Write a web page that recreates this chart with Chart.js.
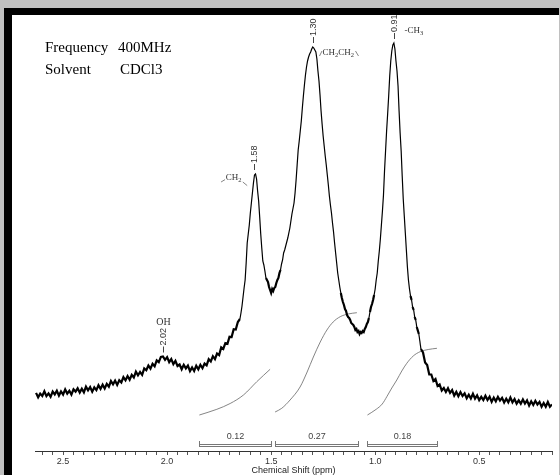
<!DOCTYPE html>
<html><head><meta charset="utf-8">
<script src="https://cdn.jsdelivr.net/npm/chart.js@4.4.0/dist/chart.umd.min.js"></script>
<style>
html,body{margin:0;padding:0;background:#c0c0c0;width:560px;height:475px;overflow:hidden}
#frame{position:absolute;left:4px;top:8px;width:555px;height:467px;background:#fff;border-left:8px solid #000;border-top:7px solid #000;box-sizing:border-box}
#wrap{position:absolute;left:0;top:0;width:547px;height:460px}
</style></head><body>
<div id="frame"><div id="wrap"><canvas id="c" width="547" height="460"></canvas></div></div>
<script>
// ---- data ----
const shiftPpm = [
2.63,2.62,2.61,2.60,2.59,2.58,2.57,2.56,2.55,2.54,
2.53,2.52,2.51,2.50,2.49,2.48,2.47,2.46,2.45,2.44,
2.43,2.42,2.41,2.40,2.39,2.38,2.37,2.36,2.35,2.34,
2.33,2.32,2.31,2.30,2.29,2.28,2.27,2.26,2.25,2.24,
2.23,2.22,2.21,2.20,2.19,2.18,2.17,2.16,2.15,2.14,
2.13,2.12,2.11,2.10,2.09,2.08,2.07,2.06,2.05,2.04,
2.03,2.02,2.01,2.00,1.99,1.98,1.97,1.96,1.95,1.94,
1.93,1.92,1.91,1.90,1.89,1.88,1.87,1.86,1.85,1.84,
1.83,1.82,1.81,1.80,1.79,1.78,1.77,1.76,1.75,1.74,
1.73,1.72,1.71,1.70,1.69,1.68,1.67,1.66,
1.65,1.645,1.64,1.635,1.63,1.625,1.62,1.615,1.61,1.605,
1.60,1.595,1.59,1.585,1.58,1.575,1.57,1.565,1.56,1.555,
1.55,1.545,1.54,1.535,1.53,1.525,1.52,1.515,1.51,1.505,
1.50,1.495,1.49,1.485,1.48,1.475,1.47,1.465,1.46,1.455,
1.45,1.445,1.44,1.435,1.43,1.42,1.41,1.40,1.39,1.385,
1.38,1.375,1.37,1.365,1.36,1.355,1.35,1.345,1.34,1.335,
1.33,1.325,1.32,1.315,1.31,1.305,1.30,1.295,1.29,1.285,
1.28,1.275,1.27,1.265,1.26,1.255,1.25,1.245,1.24,1.235,
1.23,1.225,1.22,1.215,1.21,1.205,1.20,1.195,1.19,1.185,
1.18,1.175,1.17,1.165,1.16,1.155,1.15,1.145,1.14,1.135,
1.13,1.125,1.12,1.115,1.11,1.105,1.10,1.095,1.09,1.085,
1.08,1.075,1.07,1.065,1.06,1.055,1.05,1.045,1.04,1.035,
1.03,1.025,1.02,1.015,1.01,1.005,1.00,0.995,0.99,0.985,
0.98,0.975,0.97,0.965,0.96,0.955,0.95,0.945,0.94,0.935,
0.93,0.925,0.92,0.915,0.91,0.905,0.90,0.895,0.89,0.885,
0.88,0.875,0.87,0.865,0.86,0.855,0.85,0.845,0.84,0.835,
0.83,0.825,0.82,0.815,0.81,0.805,0.80,
0.79,0.78,0.77,0.76,0.75,0.74,0.73,0.72,0.71,0.70,
0.69,0.68,0.67,0.66,0.65,0.64,0.63,0.62,0.61,0.60,
0.59,0.58,0.57,0.56,0.55,0.54,0.53,0.52,0.51,0.50,
0.49,0.48,0.47,0.46,0.45,0.44,0.43,0.42,0.41,0.40,
0.39,0.38,0.37,0.36,0.35,0.34,0.33,0.32,0.31,0.30,
0.29,0.28,0.27,0.26,0.25,0.24,0.23,0.22,0.21,0.20,
0.19,0.18,0.17,0.16,0.15
];
const intensity = [
58.1,53.7,57.4,55.1,59.7,54.9,57.6,54.2,59.4,56.6,
60.2,55.4,59.6,56.4,61.6,57.4,60.2,56.4,61.7,59.4,
62.7,58.5,62.3,58.6,64.4,60.7,64,59.3,63.6,60.9,
65.8,62.1,66.3,62.5,67.2,64.4,70,66.7,70.4,66.1,
70.7,68.5,73.8,70.7,75,71.3,76.1,73.5,79.3,75.7,
79,76.2,82.5,80.7,85.5,82.3,87.2,84.7,90.7,88.9,
94.1,94.5,91.2,93.9,88.8,91.9,86.8,90.1,85,86.5,
81.7,86.2,82.6,85.5,79.9,83.6,80,85.3,81.7,86.2,
82.8,87.4,85.6,91.8,89.6,94.8,91.9,97.5,95.9,103.6,
102.1,107.8,107.2,114.2,114,121.8,121.5,129,
132,138,145,154,163,171,188,208,217,226,
238,248,258,268,276,277,272,260,250,234,
217,203,190,186,180,173,171,169,164,161,
158,162,160,163,164,168,171,173,178,181,
187,191,198,201,205,213,223,237,248,258,
271,286,301,310,320,330,343,355,366,376,
384,390,394,397,399,402,404,403,401,399,
392,380,370,356,340,327,315,305,295,286,
276,266,255,246,238,228,219,208,198,188,
178,171,164,158,153,149,146,142,140,136,
134,133,131,128,127,126,124,121,122,119,
120,117,119,118,120,119,122,124,127,129,
133,139,144,147,151,156,162,171,178,190,
200,212,226,240,256,280,300,320,337,355,
375,390,400,406,408,402,390,380,365,340,
318,300,275,252,235,218,201,184,171,162,
155,151,144,141,134,131,124,
117,102,98.5,88.5,86,76.5,76.5,70,72,65,
66.5,60.5,63,59,62.7,58.1,61,55.4,59.1,54.8,
58.9,55,57.6,52.7,56.3,52.5,57.2,52.4,55.6,50.8,
54.1,50.9,55.2,51,54.3,49.1,53.4,49.7,54.1,50.4,
53.2,48.5,52.3,48.6,53.4,48.7,52,47.3,50.6,47.3,
51.6,47.4,50.6,45.4,49.7,46,50.2,46.4,49.1,44.3,
48,44.2,49,44.3,46.6
];

// integration curves
const integ1Shift = [1.845,1.761,1.697,1.633,1.569,1.505];
const integ1Value = [36,41.7,47.5,56,69.3,81.7];
const integ2Shift = [1.481,1.449,1.409,1.361,1.327,1.297,1.264,1.232,1.202,1.168,1.13,1.088];
const integ2Value = [39,42.7,51,64,79,94,109,121,129,134.3,137,138.3];
const integ3Shift = [1.037,0.995,0.966,0.944,0.92,0.896,0.872,0.848,0.817,0.784,0.745,0.703];
const integ3Value = [36,41.7,47,54.3,63,71,80,87.7,95,99.3,101.5,102.7];

// integration regions
const integStart = [1.845,1.48,1.037];
const integEnd = [1.50,1.083,0.703];
const integArea = ['0.12','0.27','0.18'];

// peaks
const peakShift = [2.02,1.58,1.30,0.91];
const peakLabel = ['2.02','1.58','1.30','0.91'];
const peakGroup = ['OH','CH_2','CH_2CH_2','-CH_3'];

// axis
const tickLabelValues = [2.5,2.0,1.5,1.0,0.5];
const xMin = 0.15, xMax = 2.635, minorStep = 0.05;
const xTitle = 'Chemical Shift (ppm)';

const infoKeys = ['Frequency','Solvent'];
const infoVals = ['400MHz','CDCl3'];

// ---- styles ----
const groupStyle = [
  {align:'center', dx:0, dy:-34, size:10},
  {align:'right', dx:-13, dy:4, size:9, bonds:[[-4.7,4,-0.7,1.6,'s'],[1.3,4,5.7,7.6,'e']]},
  {align:'left', dx:9, dy:5.5, size:9, bonds:[[-3,3.5,-0.5,-1.5,'s'],[1.5,-1.5,4.5,3.5,'e']]},
  {align:'left', dx:10, dy:-12, size:9}
];

function pts(xs, ys){ return xs.map((x,i)=>({x:x, y:ys[i]})); }

function drawFormula(ctx, s, x, y, align, size){
  const parts=[];
  for(let i=0;i<s.length;i++){
    if(s[i]==='_'){parts.push({t:s[i+1],sub:true}); i++;}
    else parts.push({t:s[i],sub:false});
  }
  const fN = size+'px "Liberation Serif", "Times New Roman", serif';
  const fS = (size*0.72).toFixed(1)+'px "Liberation Serif", "Times New Roman", serif';
  let w=0;
  parts.forEach(p=>{ctx.font=p.sub?fS:fN; p.w=ctx.measureText(p.t).width; w+=p.w;});
  const sx = align==='right'? x-w : (align==='center'? x-w/2 : x);
  ctx.textBaseline='middle'; ctx.textAlign='left';
  let cx=sx;
  parts.forEach(p=>{ctx.font=p.sub?fS:fN; ctx.fillText(p.t,cx,y+(p.sub?2.5:0)); cx+=p.w;});
  return [sx, sx+w];
}

const annot = {
  id:'annot',
  afterDraw(chart){
    const ctx=chart.ctx, xs=chart.scales.x, ys=chart.scales.y, ca=chart.chartArea;
    ctx.save();
    ctx.fillStyle='#000';
    ctx.font='15px "Liberation Serif", "Times New Roman", serif';
    ctx.textBaseline='alphabetic'; ctx.textAlign='left';
    ctx.fillText(infoKeys[0], 33, 37); ctx.fillText(infoVals[0], 106, 37);
    ctx.fillText(infoKeys[1], 33, 59); ctx.fillText(infoVals[1], 108, 59);

    peakShift.forEach((p,i)=>{
      let best=-1;
      shiftPpm.forEach((s,j)=>{ if(Math.abs(s-p)<=0.0051 && intensity[j]>best) best=intensity[j]; });
      const px=Math.round(xs.getPixelForValue(p))+0.5, py=ys.getPixelForValue(best);
      ctx.strokeStyle='#444'; ctx.lineWidth=1;
      ctx.beginPath(); ctx.moveTo(px,py-4); ctx.lineTo(px,py-10); ctx.stroke();
      ctx.save(); ctx.translate(px,py-11); ctx.rotate(-Math.PI/2);
      ctx.fillStyle='#333'; ctx.font='9px "Liberation Sans", Arial, sans-serif';
      ctx.textAlign='left'; ctx.textBaseline='middle';
      ctx.fillText(peakLabel[i],0,0.5); ctx.restore();
      const g=groupStyle[i];
      ctx.fillStyle='#333';
      const gy=py+g.dy;
      const [s0,e0]=drawFormula(ctx, peakGroup[i], px+g.dx, gy, g.align, g.size);
      if(g.bonds){
        ctx.strokeStyle='#666'; ctx.lineWidth=0.8;
        g.bonds.forEach(b=>{
          const base=b[4]==='s'?s0:e0;
          ctx.beginPath(); ctx.moveTo(base+b[0],gy+b[1]); ctx.lineTo(base+b[2],gy+b[3]); ctx.stroke();
        });
      }
    });

    const b=ca.bottom;
    ctx.strokeStyle='#777'; ctx.lineWidth=1;
    integStart.forEach((s,i)=>{
      const x1=Math.round(xs.getPixelForValue(s))+0.5, x2=Math.round(xs.getPixelForValue(integEnd[i]))+0.5;
      ctx.beginPath();
      ctx.moveTo(x1,b-10); ctx.lineTo(x1,b-4);
      ctx.moveTo(x2,b-10); ctx.lineTo(x2,b-4);
      ctx.moveTo(x1,b-6.5); ctx.lineTo(x2,b-6.5);
      ctx.moveTo(x1,b-4.5); ctx.lineTo(x2,b-4.5);
      ctx.stroke();
      ctx.fillStyle='#444'; ctx.font='9px "Liberation Sans", Arial, sans-serif';
      ctx.textAlign='center'; ctx.textBaseline='middle';
      ctx.fillText(integArea[i],(x1+x2)/2,b-14);
    });
    ctx.fillStyle='#222'; ctx.font='9px "Liberation Sans", Arial, sans-serif';
    ctx.textAlign='center'; ctx.textBaseline='middle';
    ctx.fillText(xTitle,(ca.left+ca.right)/2,b+19.5);
    ctx.restore();
  }
};

const integStyle = {borderColor:'#666', borderWidth:0.8, pointRadius:0, cubicInterpolationMode:'monotone', fill:false};

new Chart(document.getElementById('c'), {
  type:'line',
  data:{ datasets:[
    {data:pts(shiftPpm,intensity), borderColor:'#000', borderWidth:1.2, pointRadius:0, tension:0, fill:false,
      segment:{borderWidth:(c)=>{
        const dx=Math.abs(c.p1.x-c.p0.x)||1, dy=Math.abs(c.p1.y-c.p0.y);
        const low = intensity[c.p0DataIndex] < 185 && intensity[c.p1DataIndex] < 185;
        return (low && dy/dx < 5) ? 2.2 : 1.2;
      }}},
    Object.assign({data:pts(integ1Shift,integ1Value)}, integStyle),
    Object.assign({data:pts(integ2Shift,integ2Value)}, integStyle),
    Object.assign({data:pts(integ3Shift,integ3Value)}, integStyle)
  ]},
  options:{
    responsive:false, animation:false, devicePixelRatio:1,
    layout:{padding:{left:23,right:7,top:0,bottom:0}, autoPadding:false},
    plugins:{legend:{display:false}, tooltip:{enabled:false}},
    scales:{
      x:{type:'linear', reverse:true, min:xMin, max:xMax,
        afterBuildTicks(scale){
          const t=[]; for(let k=Math.ceil(xMin/minorStep-1e-6);k*minorStep<=xMax+1e-9;k++) t.push({value:+(k*minorStep).toFixed(2)});
          scale.ticks=t;
        },
        afterFit(scale){ scale.height = 24; },
        ticks:{autoSkip:false, maxRotation:0, padding:2, color:'#333',
          font:{family:'"Liberation Sans", Arial, sans-serif', size:9, lineHeight:1},
          callback:(v)=> tickLabelValues.some(t=>Math.abs(t-v)<1e-6) ? v.toFixed(1) : ''},
        grid:{drawOnChartArea:false, drawTicks:true, tickLength:4, color:'#555'},
        border:{display:true, color:'#333', width:1},
        title:{display:false}
      },
      y:{type:'linear', display:false, min:0, max:436}
    }
  },
  plugins:[annot]
});
</script>
</body></html>
